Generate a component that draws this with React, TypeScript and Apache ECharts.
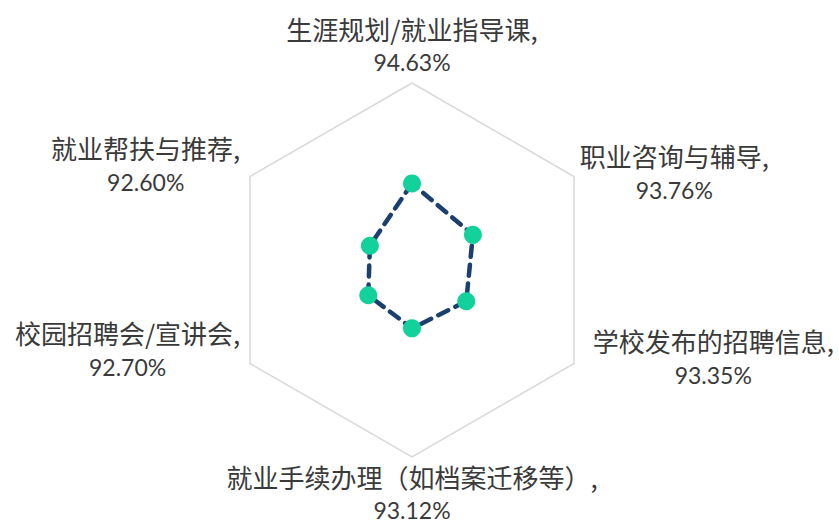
import React, { useEffect, useRef } from "react";
import * as echarts from "echarts";

// Indicators in ECharts order (start at top, counter-clockwise)
const categories: string[] = [
  "生涯规划/就业指导课",
  "就业帮扶与推荐",
  "校园招聘会/宣讲会",
  "就业手续办理（如档案迁移等）",
  "学校发布的招聘信息",
  "职业咨询与辅导",
];
const values: number[] = [94.63, 92.6, 92.7, 93.12, 93.35, 93.76];
const axisMin = 90;
const axisMax = 100;

// label nudges: [horizontal padding, extra bottom spacer height]
const nudges: [number[], number][] = [
  [[0, 0, 0, 0], 2],
  [[0, 8, 0, 0], 22],
  [[0, 8, 0, 0], 30],
  [[0, 0, 0, 0], 0],
  [[0, 0, 0, 17], 14],
  [[0, 0, 0, 4], 6],
];

const CJK = '"Noto Sans CJK SC", "Noto Sans", sans-serif';
const NUM = 'Lato, "Noto Sans", sans-serif';
const TXT = "#3a3a3a";

export default function App() {
  const ref = useRef<HTMLDivElement>(null);
  useEffect(() => {
    if (!ref.current) return;
    const chart = echarts.init(ref.current, undefined, { renderer: "svg" });
    const rich: Record<string, any> = {};
    nudges.forEach(([pad, spacer], i) => {
      rich["n" + i] = { fontSize: 26, lineHeight: 34, align: "center", color: TXT, fontFamily: CJK, padding: pad };
      rich["v" + i] = { fontSize: 23, lineHeight: 34, align: "center", color: TXT, fontFamily: NUM, padding: pad };
      rich["s" + i] = { fontSize: 2, lineHeight: Math.max(spacer, 1), color: "rgba(0,0,0,0)" };
    });
    chart.setOption({
      animation: false,
      backgroundColor: "#ffffff",
      radar: {
        center: [412, 270],
        radius: 187,
        startAngle: 90,
        splitNumber: 1,
        shape: "polygon",
        nameGap: 2,
        indicator: categories.map((name) => ({ name, min: axisMin, max: axisMax })),
        axisLine: { show: false },
        axisTick: { show: false },
        axisLabel: { show: false },
        splitArea: { show: false },
        splitLine: { show: true, lineStyle: { color: "#d9d9d9", width: 1.5 } },
        axisName: {
          color: TXT,
          fontFamily: CJK,
          formatter: (name: string) => {
            const i = categories.indexOf(name);
            const spacer = nudges[i][1] > 0 ? `\n{s${i}| }` : "";
            return `{n${i}|${name},}\n{v${i}|${values[i].toFixed(2)}%}${spacer}`;
          },
          rich,
        },
      },
      series: [
        {
          type: "radar",
          symbol: "circle",
          symbolSize: 18,
          lineStyle: { color: "#1b3f6e", width: 4.5, type: [11, 8], cap: "round" },
          itemStyle: { color: "#12d19b", borderWidth: 0 },
          data: [{ value: values, name: "满意度" }],
        },
      ],
    });
    return () => chart.dispose();
  }, []);
  return (
    <div
      ref={ref}
      style={{ position: "fixed", left: 0, top: 0, width: 839, height: 523, background: "#fff" }}
    />
  );
}
